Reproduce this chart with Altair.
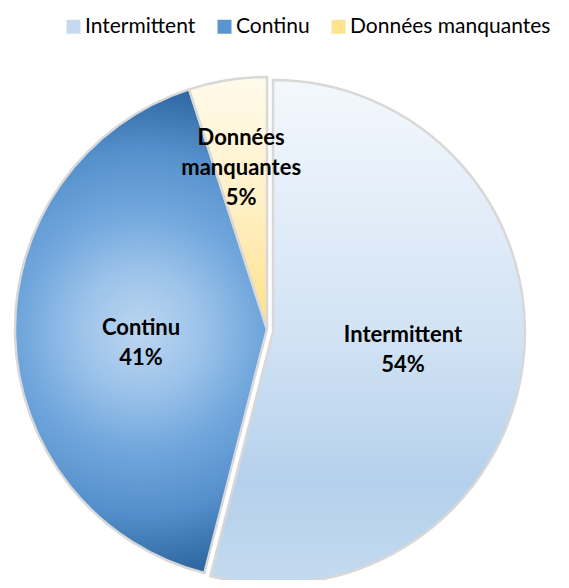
import altair as alt
import pandas as pd

# ---- data ----
categories = ["Intermittent", "Continu", "Données manquantes"]
shares = [54, 41, 5]
legend_colors = ["#c5daf0", "#5b95d0", "#ffe38f"]

labels = [f"{c.replace(' ', chr(10))}\n{v}%" for c, v in zip(categories, shares)]
df = pd.DataFrame({"cat": categories, "share": shares,
                   "order": list(range(len(categories))), "label": labels})

TWO_PI = 6.283185307179586
theta_scale = alt.Scale(domain=[0, sum(shares)], range=[0, TWO_PI])

def stop(o, c):
    return alt.GradientStop(offset=o, color=c)

fills = {
    "Intermittent": alt.LinearGradient(
        gradient="linear", x1=0, x2=0, y1=0, y2=1,
        stops=[stop(0, "#f4f8fd"), stop(0.5, "#d2e3f4"), stop(0.8, "#b5d0ec"), stop(1, "#c4daef")]),
    "Continu": alt.RadialGradient(
        gradient="radial", x1=0.5, y1=0.5, r1=0, x2=0.5, y2=0.5, r2=0.5,
        stops=[stop(0, "#bcd6f0"), stop(0.25, "#9cc3ea"), stop(0.5, "#70a6dc"),
               stop(0.75, "#5590cc"), stop(1, "#2f68a2")]),
    "Données manquantes": alt.LinearGradient(
        gradient="linear", x1=0, x2=0, y1=0, y2=1,
        stops=[stop(0, "#fffaeb"), stop(0.5, "#fff0c6"), stop(1, "#ffe08a")]),
}
centers = {"Intermittent": (265, 324), "Continu": (259, 321), "Données manquantes": (259, 321)}
label_radius = {"Intermittent": 131, "Continu": 126, "Données manquantes": 165}
label_dy = {"Intermittent": -13, "Continu": -5, "Données manquantes": -28}
R = 252

base = alt.Chart(df).transform_window(
    cum="sum(share)", sort=[alt.SortField("order")]
).transform_calculate(
    start="datum.cum - datum.share", mid="datum.cum - datum.share / 2"
)

layers = []
for cat in categories:
    cx, cy = centers[cat]
    sub = base.transform_filter(alt.datum.cat == cat)
    layers.append(
        sub.mark_arc(x=cx, y=cy, radius=R, fill=fills[cat],
                     stroke="#d8d8d8", strokeWidth=2.5).encode(
            theta=alt.Theta("start:Q", scale=theta_scale, stack=False),
            theta2="cum:Q",
        )
    )
for cat in categories:
    cx, cy = centers[cat]
    sub = base.transform_filter(alt.datum.cat == cat)
    layers.append(
        sub.mark_text(x=cx, y=cy, radius=label_radius[cat], dy=label_dy[cat],
                      font="Lato", fontSize=22, fontWeight="bold", lineBreak="\n",
                      lineHeight=30, align="center", baseline="middle",
                      color="#000000").encode(
            theta=alt.Theta("mid:Q", scale=theta_scale, stack=False),
            text="label:N",
        )
    )

legend_layer = alt.Chart(df).mark_point(shape="square", filled=True, opacity=0).encode(
    color=alt.Color("cat:N", scale=alt.Scale(domain=categories, range=legend_colors),
                    legend=alt.Legend(title=None, orient="none", legendX=55, legendY=8,
                                      direction="horizontal", symbolType="square",
                                      symbolSize=196, symbolOpacity=1, symbolStrokeWidth=0,
                                      labelFont="Lato", labelFontSize=21, labelColor="#000000",
                                      labelOffset=1, columnPadding=18, padding=0,
                                      labelLimit=400))
)
layers.append(legend_layer)

chart = alt.layer(*layers).properties(
    width=553, height=572, padding=0,
    autosize=alt.AutoSizeParams(type="none"),
    background="white",
).configure_view(strokeWidth=0)

chart.save("out.html", embed_options={"renderer": "svg", "actions": False})
